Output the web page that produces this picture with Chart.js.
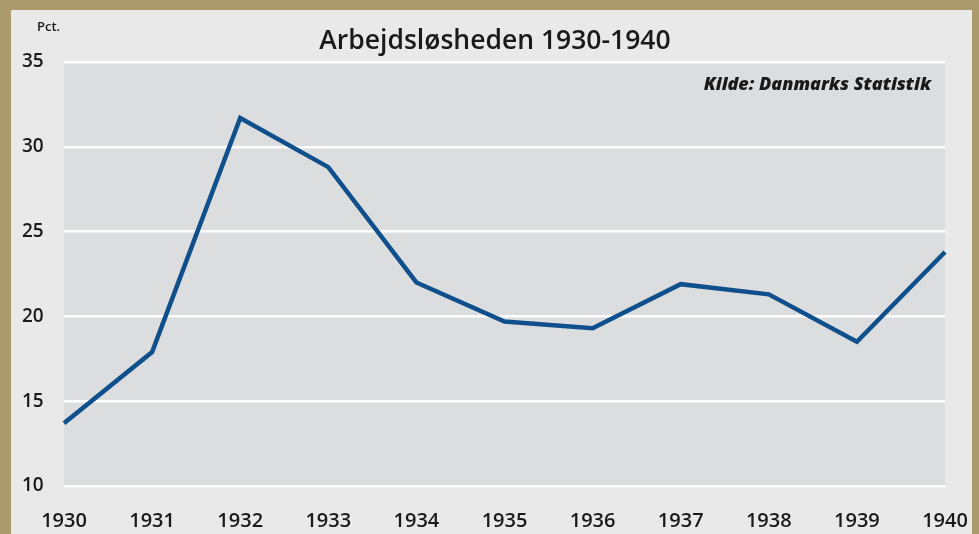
<!DOCTYPE html>
<html>
<head>
<meta charset="utf-8">
<script src="https://cdn.jsdelivr.net/npm/chart.js@4/dist/chart.umd.min.js"></script>
<style>
  html, body { margin: 0; padding: 0; }
  #frame { position: relative; width: 979px; height: 534px; background: #ab9a6c; overflow: hidden; }
  #inner { position: absolute; left: 11px; top: 10px; width: 961px; height: 524px; background: #e9e9e9; }
</style>
</head>
<body>
<div id="frame">
  <div id="inner"><canvas id="myChart" width="961" height="524"></canvas></div>
</div>
<script>
"use strict";

// Data
const years = ["1930", "1931", "1932", "1933", "1934", "1935", "1936", "1937", "1938", "1939", "1940"];
const unemployment = [13.7, 17.9, 31.7, 28.8, 22.0, 19.7, 19.3, 21.9, 21.3, 18.5, 23.8];
const yTicks = [10, 15, 20, 25, 30, 35];

const titleText = "Arbejdsløsheden 1930-1940";
const unitText = "Pct.";
const sourceText = "Kilde: Danmarks Statistik";

// Plot background + extra texts
const decor = {
  id: "decor",
  beforeDraw(chart) {
    const { ctx, chartArea } = chart;
    ctx.save();
    ctx.fillStyle = "#dcdddf";
    ctx.fillRect(chartArea.left, chartArea.top, chartArea.right - chartArea.left, chartArea.bottom - chartArea.top);
    ctx.restore();
  },
  afterDraw(chart) {
    const { ctx } = chart;
    ctx.save();
    ctx.fillStyle = "#1a1a1a";
    ctx.textBaseline = "middle";

    ctx.textAlign = "center";
    ctx.font = "600 26.5px 'Open Sans'";
    ctx.fillText(titleText, 484, 31);

    ctx.textAlign = "left";
    ctx.font = "600 13px 'Open Sans'";
    ctx.fillText(unitText, 26, 17);

    ctx.textAlign = "right";
    ctx.font = "italic 800 18px 'Open Sans'";
    ctx.fillText(sourceText, 920, 75);
    ctx.restore();
  }
};

new Chart("myChart", {
  type: "line",
  data: {
    labels: years,
    datasets: [{
      data: unemployment,
      borderColor: "#0f4f8c",
      borderWidth: 4.5,
      pointRadius: 0,
      tension: 0,
      borderJoinStyle: "miter",
      fill: false
    }]
  },
  options: {
    responsive: false,
    animation: false,
    layout: { padding: { left: 11, right: 27, top: 52, bottom: 0 } },
    plugins: {
      legend: { display: false },
      tooltip: { enabled: false }
    },
    scales: {
      x: {
        offset: false,
        grid: { display: false, drawTicks: false },
        border: { display: false },
        ticks: {
          color: "#1a1a1a",
          padding: 23,
          maxRotation: 0,
          autoSkip: false,
          font: { family: "'Open Sans'", size: 20, weight: "600" }
        },
        afterFit(scale) {
          scale.height = 48;
          scale.paddingLeft = 0;
          scale.paddingRight = 0;
        }
      },
      y: {
        min: 10,
        max: 35,
        afterBuildTicks(scale) { scale.ticks = yTicks.map(v => ({ value: v })); },
        grid: { color: "#ffffff", lineWidth: 2.5, drawTicks: false },
        border: { display: false },
        ticks: {
          color: "#1a1a1a",
          crossAlign: "far",
          padding: 0,
          font: { family: "'Open Sans'", size: 19, weight: "600" }
        },
        afterFit(scale) { scale.width = 42; }
      }
    }
  },
  plugins: [decor]
});
</script>
</body>
</html>
